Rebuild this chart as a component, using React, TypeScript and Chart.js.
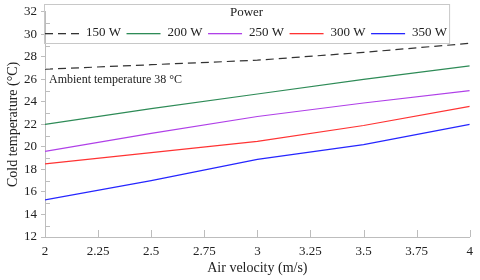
import React, { useEffect, useRef } from 'react';
import { Chart, registerables } from 'chart.js';

Chart.register(...registerables);

const velocities = [2, 2.5, 3, 3.5, 4];
const seriesLabels = ['150 W', '200 W', '250 W', '300 W', '350 W'];
const temp150 = [26.9, 27.3, 27.7, 28.4, 29.2];
const temp200 = [22.0, 23.4, 24.7, 26.0, 27.2];
const temp250 = [19.6, 21.2, 22.7, 23.9, 25.0];
const temp300 = [18.5, 19.5, 20.5, 21.9, 23.6];
const temp350 = [15.3, 17.0, 18.9, 20.2, 22.0];
const xTickValues = [2, 2.25, 2.5, 2.75, 3, 3.25, 3.5, 3.75, 4];
const yTickValues = [12, 14, 16, 18, 20, 22, 24, 26, 28, 30, 32];
const legendTitle = 'Power';
const ambientText = 'Ambient temperature 38 °C';
const ambientAt = 26;
const xTitle = 'Air velocity (m/s)';
const yTitle = 'Cold temperature (°C)';

const seriesValues = [temp150, temp200, temp250, temp300, temp350];
const seriesColors = ['#333333', '#2e8b57', '#b040e8', '#ff3333', '#2626ff'];
const seriesDash = [[8, 5], [], [], [], []];

const FONT = '"Liberation Serif", "Times New Roman", serif';
const AXIS = '#bdbdbd';
const TEXT = '#222222';

const decorPlugin = {
  id: 'decor',
  afterDraw(chart: any) {
    const { ctx, chartArea, scales } = chart;
    const xs = scales.x;
    const ys = scales.y;
    ctx.save();
    ctx.strokeStyle = AXIS;
    ctx.lineWidth = 1;
    ctx.setLineDash([]);
    // inner ticks on x axis
    xs.ticks.forEach((t: any) => {
      const px = Math.round(xs.getPixelForValue(t.value)) + 0.5;
      ctx.beginPath();
      ctx.moveTo(px, chartArea.bottom);
      ctx.lineTo(px, chartArea.bottom - 7);
      ctx.stroke();
    });
    // inner minor ticks on y axis
    for (let i = 0; i < ys.ticks.length - 1; i++) {
      const v = (ys.ticks[i].value + ys.ticks[i + 1].value) / 2;
      const py = Math.round(ys.getPixelForValue(v)) + 0.5;
      ctx.beginPath();
      ctx.moveTo(chartArea.left, py);
      ctx.lineTo(chartArea.left + 5, py);
      ctx.stroke();
    }
    // ambient annotation
    ctx.font = '12px ' + FONT;
    ctx.fillStyle = TEXT;
    ctx.textBaseline = 'middle';
    ctx.textAlign = 'left';
    ctx.fillText(ambientText, chartArea.left + 4, ys.getPixelForValue(ambientAt));

    // legend
    ctx.font = '13px ' + FONT;
    const boxLeft = chartArea.left - 1;
    const boxTop = 4;
    const rowY = 33;
    let x = boxLeft + 1;
    const sample = 34;
    const gap = 7;
    const pad = 5.5;
    seriesLabels.forEach((label, i) => {
      ctx.fillStyle = seriesColors[i];
      const dash = seriesDash[i];
      if (dash.length) {
        let p = 0;
        let k = 0;
        while (p < sample) {
          const len = Math.min(dash[k % dash.length], sample - p);
          if (k % 2 === 0) ctx.fillRect(x + p, rowY, len, 1.3);
          p += dash[k % dash.length];
          k++;
        }
      } else {
        ctx.fillRect(x, rowY, sample, 1.3);
      }
      ctx.fillStyle = TEXT;
      ctx.fillText(label, x + sample + gap, rowY);
      x += sample + gap + ctx.measureText(label).width + pad;
    });
    const boxRight = x - pad + 2;
    const boxBottom = 43;
    ctx.strokeStyle = '#c8c8c8';
    ctx.lineWidth = 1;
    ctx.setLineDash([]);
    ctx.strokeRect(boxLeft + 0.5, boxTop + 0.5, boxRight - boxLeft, boxBottom - boxTop);
    ctx.textAlign = 'center';
    ctx.fillStyle = TEXT;
    ctx.fillText(legendTitle, (boxLeft + boxRight) / 2, 13);
    ctx.restore();
  },
};

export default function App() {
  const ref = useRef<HTMLCanvasElement | null>(null);
  useEffect(() => {
    if (!ref.current) return;
    const chart = new Chart(ref.current, {
      type: 'line',
      data: {
        datasets: seriesLabels.map((label, i) => ({
          label,
          data: velocities.map((v, j) => ({ x: v, y: seriesValues[i][j] })),
          borderColor: seriesColors[i],
          backgroundColor: seriesColors[i],
          borderDash: seriesDash[i],
          borderWidth: 1.2,
          pointRadius: 0,
          tension: 0,
          fill: false,
        })),
      },
      options: {
        responsive: false,
        animation: false,
        layout: { padding: { top: 11, right: 5, bottom: 0, left: 0 } },
        plugins: { legend: { display: false }, tooltip: { enabled: false } },
        scales: {
          x: {
            type: 'linear',
            min: 2,
            max: 4,
            afterBuildTicks: (s: any) => {
              s.ticks = xTickValues.map((v) => ({ value: v }));
            },
            afterFit: (s: any) => {
              s.height = 43;
            },
            grid: { display: false, drawTicks: false },
            border: { display: true, color: AXIS },
            ticks: {
              autoSkip: false,
              maxRotation: 0,
              padding: 7,
              color: TEXT,
              font: { family: FONT, size: 13 },
              callback: (v: any) => String(v),
            },
            title: {
              display: true,
              text: xTitle,
              color: TEXT,
              font: { family: FONT, size: 14 },
              padding: { top: 0, bottom: 3 },
            },
          },
          y: {
            type: 'linear',
            min: 12,
            max: 32,
            afterBuildTicks: (s: any) => {
              s.ticks = yTickValues.map((v) => ({ value: v }));
            },
            afterFit: (s: any) => {
              s.width = 45;
            },
            grid: { display: true, drawOnChartArea: false, drawTicks: true, tickLength: 4, color: AXIS },
            border: { display: true, color: AXIS },
            ticks: {
              autoSkip: false,
              padding: 4,
              color: TEXT,
              font: { family: FONT, size: 13 },
              callback: (v: any) => String(v),
            },
            title: {
              display: true,
              text: yTitle,
              color: TEXT,
              font: { family: FONT, size: 14 },
              padding: { top: 5, bottom: 0 },
            },
          },
        },
      },
      plugins: [decorPlugin],
    });
    return () => chart.destroy();
  }, []);
  return (
    <div style={{ position: 'fixed', left: 0, top: 0, width: 480, height: 280, background: '#fff' }}>
      <canvas ref={ref} width={480} height={280} />
    </div>
  );
}
